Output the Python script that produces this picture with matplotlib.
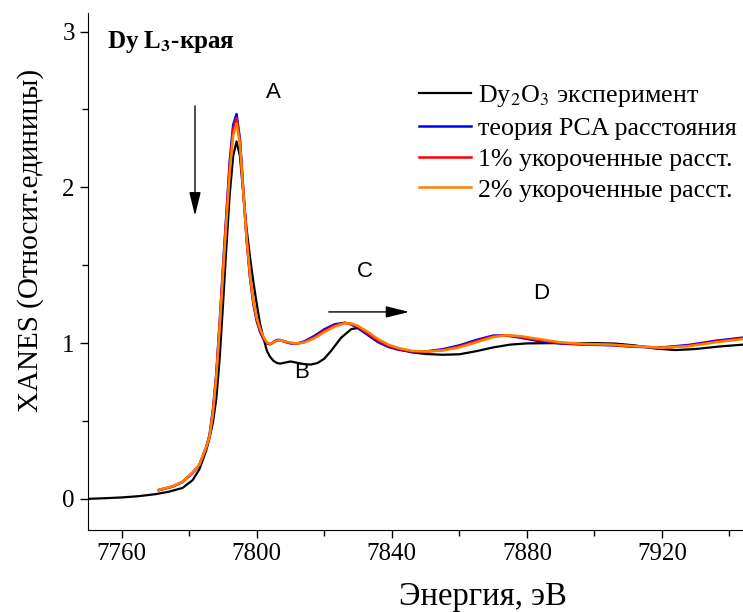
import matplotlib
matplotlib.use('Agg')
import matplotlib.pyplot as plt
from matplotlib.ticker import MultipleLocator

plt.rcParams['font.family'] = ['Liberation Serif', 'DejaVu Serif']
plt.rcParams['mathtext.fontset'] = 'stix'

# экспериментальный спектр Dy2O3
energy_exp = [7750, 7755, 7760, 7765, 7770, 7774, 7778, 7781, 7783, 7785, 7786, 7787, 7788, 7789,
              7790, 7791, 7792, 7793, 7794, 7795, 7796, 7797, 7798, 7799, 7800, 7801, 7802, 7803,
              7804, 7805, 7806, 7807, 7808, 7810, 7812, 7814, 7816, 7818, 7820, 7822, 7825, 7828,
              7830, 7832, 7835, 7838, 7842, 7846, 7850, 7855, 7860, 7865, 7870, 7875, 7880, 7890,
              7900, 7906, 7912, 7918, 7924, 7930, 7937, 7944]
xanes_exp = [0.0, 0.004, 0.009, 0.017, 0.03, 0.046, 0.07, 0.12, 0.19, 0.31, 0.39, 0.49, 0.64, 0.9,
             1.25, 1.62, 1.96, 2.2, 2.295, 2.2, 1.96, 1.73, 1.55, 1.39, 1.25, 1.12, 1.03, 0.95,
             0.91, 0.885, 0.872, 0.868, 0.873, 0.882, 0.873, 0.865, 0.862, 0.872, 0.9, 0.95, 1.035, 1.09,
             1.097, 1.075, 1.025, 0.99, 0.96, 0.94, 0.93, 0.925, 0.928, 0.948, 0.972, 0.99, 0.998, 1.0,
             1.0, 0.997, 0.985, 0.965, 0.955, 0.962, 0.978, 0.99]

# теоретические спектры
energy_th = [7771, 7775, 7778, 7781, 7783, 7785, 7786, 7787, 7788, 7789, 7790, 7791, 7792, 7793,
             7794, 7795, 7796, 7797, 7798, 7799, 7800, 7801, 7802, 7803, 7804, 7805, 7806, 7807,
             7808, 7810, 7812, 7814, 7817, 7820, 7823, 7826, 7828, 7830, 7833, 7836, 7839, 7842,
             7846, 7850, 7855, 7860, 7865, 7870, 7874, 7878, 7883, 7890, 7897, 7905, 7912, 7920,
             7928, 7936, 7944]
xanes_pca = [0.056, 0.078, 0.108, 0.167, 0.217, 0.33, 0.41, 0.57, 0.80, 1.13, 1.49, 1.83, 2.17, 2.40,
             2.47, 2.31, 1.98, 1.66, 1.42, 1.25, 1.14, 1.07, 1.025, 0.998, 0.993, 1.008, 1.02, 1.02,
             1.01, 0.998, 0.998, 1.01, 1.045, 1.088, 1.12, 1.13, 1.12, 1.095, 1.05, 1.005, 0.975, 0.957,
             0.945, 0.946, 0.96, 0.985, 1.02, 1.048, 1.048, 1.035, 1.015, 0.997, 0.99, 0.986, 0.976, 0.972,
             0.988, 1.015, 1.035]
xanes_1pct = [0.057, 0.079, 0.109, 0.168, 0.218, 0.33, 0.40, 0.56, 0.79, 1.12, 1.47, 1.81, 2.14, 2.37,
              2.445, 2.30, 1.98, 1.67, 1.43, 1.26, 1.15, 1.08, 1.03, 1.0, 0.993, 1.005, 1.017, 1.018,
              1.012, 1.0, 0.997, 1.006, 1.036, 1.078, 1.112, 1.13, 1.123, 1.104, 1.06, 1.015, 0.982, 0.962,
              0.947, 0.945, 0.955, 0.978, 1.013, 1.043, 1.05, 1.04, 1.022, 1.0, 0.992, 0.988, 0.978, 0.97,
              0.983, 1.01, 1.03]
xanes_2pct = [0.058, 0.08, 0.11, 0.17, 0.22, 0.33, 0.40, 0.55, 0.78, 1.10, 1.45, 1.78, 2.10, 2.33,
              2.41, 2.28, 1.97, 1.67, 1.44, 1.27, 1.16, 1.09, 1.04, 1.005, 0.995, 1.005, 1.015, 1.018,
              1.013, 1.003, 0.998, 1.003, 1.03, 1.07, 1.105, 1.127, 1.125, 1.11, 1.07, 1.025, 0.99, 0.968,
              0.95, 0.946, 0.952, 0.972, 1.005, 1.038, 1.05, 1.045, 1.028, 1.005, 0.995, 0.99, 0.98, 0.97,
              0.98, 1.005, 1.026]

labels = ['Dy$_2$O$_3$ эксперимент', 'теория PCA расстояния',
          '1% укороченные расст.', '2% укороченные расст.']

fig = plt.figure(figsize=(7.43, 6.12), dpi=100)
ax = fig.add_axes([0.1184, 0.134, 0.8816, 0.845])

ax.plot(energy_exp, xanes_exp, color='black', lw=1.6, label=labels[0])
ax.plot(energy_th, xanes_pca, color='#0000ff', lw=1.8, label=labels[1])
ax.plot(energy_th, xanes_1pct, color='#ff0000', lw=1.8, label=labels[2])
ax.plot(energy_th, xanes_2pct, color='#ff8000', lw=1.8, label=labels[3])

ax.set_xlim(7750, 7944)
ax.set_ylim(-0.2, 3.12)
ax.xaxis.set_major_locator(MultipleLocator(40))
ax.xaxis.set_minor_locator(MultipleLocator(20))
ax.yaxis.set_major_locator(MultipleLocator(1))
ax.yaxis.set_minor_locator(MultipleLocator(0.5))
ax.tick_params(which='major', direction='out', length=6, width=1, labelsize=18)
ax.tick_params(which='minor', direction='out', length=4, width=1)
for s in ['top', 'right']:
    ax.spines[s].set_visible(False)

ax.set_xlabel('Энергия, эВ', fontsize=23.5)
ax.xaxis.set_label_coords(0.603, -0.1)
ax.set_ylabel('XANES (Относит.единицы)', fontsize=21)
ax.yaxis.set_label_coords(-0.067, 0.559)

ax.text(7755.5, 2.93, r'Dy L$_\mathbf{3}$-края', fontsize=18, fontweight='bold', va='center')

sans = ['Liberation Sans', 'DejaVu Sans']
for txt, x, y in [('A', 7804.8, 2.61), ('B', 7813.4, 0.81), ('C', 7832.1, 1.46), ('D', 7884.2, 1.32)]:
    ax.text(x, y, txt, family=sans, fontsize=16, ha='center', va='center')

head = '-|>,head_length=0.9,head_width=0.22'
ax.annotate('', xy=(7781.7, 1.80), xytext=(7781.7, 2.54),
            arrowprops=dict(arrowstyle=head, color='black', lw=1, mutation_scale=16))
ax.annotate('', xy=(7846, 1.2), xytext=(7820.5, 1.2),
            arrowprops=dict(arrowstyle=head, color='black', lw=1, mutation_scale=16))

ax.legend(loc='upper left', bbox_to_anchor=(0.505, 0.865), frameon=False, fontsize=18.7,
          handlelength=2.0, handletextpad=0.3, labelspacing=0.3, borderpad=0, borderaxespad=0)

plt.savefig('out.png', dpi=100)
